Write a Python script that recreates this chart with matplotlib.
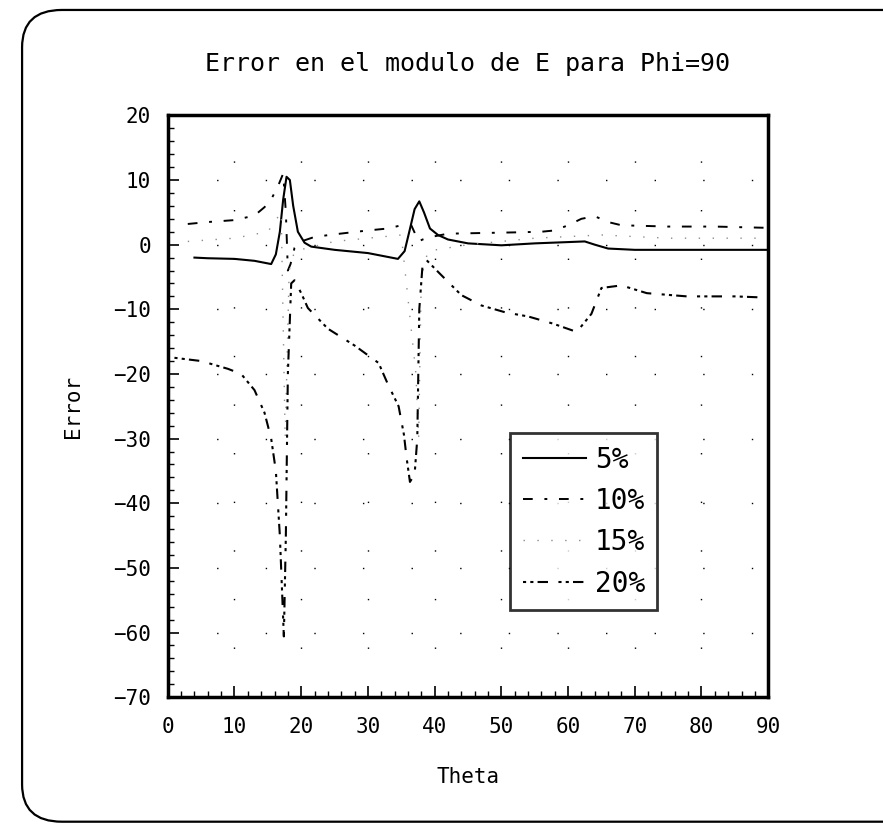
import matplotlib
matplotlib.use('Agg')
import matplotlib.pyplot as plt
from matplotlib.patches import FancyBboxPatch

plt.rcParams['font.family'] = ['DejaVu Sans Mono', 'DejaVu Sans']

# -------------------------------------------------------------------
# datos (Theta, Error)
# -------------------------------------------------------------------
theta_5 = [4, 6, 10, 13, 15.5, 16.2, 16.8, 17.3, 17.8, 18.3, 18.8, 19.5, 20.5, 21.5,
           25, 30, 34.5, 35.5, 36.2, 37, 37.7, 38.4, 39.3, 40.5, 42, 45, 50, 55,
           60, 62.5, 64, 66, 70, 80, 90]
err_5 = [-2.0, -2.1, -2.2, -2.5, -3.0, -1.5, 2, 7, 10.5, 10, 6, 2, 0.3, -0.3,
         -0.8, -1.3, -2.2, -1, 2, 5.5, 6.7, 5, 2.5, 1.5, 0.8, 0.2, -0.1, 0.2,
         0.4, 0.5, 0, -0.6, -0.8, -0.8, -0.8]

theta_10 = [3, 6, 10, 13, 14.5, 15.5, 16.5, 17.3, 17.7, 18.0, 18.4, 19.0, 20, 22,
            25, 30, 33, 35, 36.5, 37.6, 38.2, 39.5, 42, 47, 52, 56, 58, 60, 62,
            64, 66, 68, 75, 82, 90]
err_10 = [3.2, 3.5, 3.8, 4.5, 5.8, 7, 9, 11, 5, -4, -3, -0.5, 0.5, 1.2,
          1.6, 2.2, 2.5, 3.0, 3.0, 0.5, 0.8, 1.2, 1.7, 1.8, 1.9, 2.0, 2.2, 3.0, 4.0,
          4.4, 3.5, 3.0, 2.8, 2.8, 2.6]

theta_15 = [3, 10, 15, 17, 17.6, 18.2, 19, 25, 30, 35, 37.2, 37.6, 38, 39, 45, 55,
            65, 75, 90]
err_15 = [0.5, 1, 2, 5, -30, -4, -1, 0.5, 1, 1.5, -20, -30, -5, -1, 0, 1,
          1.5, 1, 1]

theta_20 = [1, 5, 9, 11, 13, 14.5, 15.5, 16.2, 16.8, 17.4, 17.7, 18.0, 18.5, 19, 20,
            21, 24, 28, 31.6, 33, 34.6, 35.4, 35.8, 36.3, 37.0, 37.4, 37.7, 38.2,
            38.7, 40.7, 44, 47, 50.7, 54, 57.7, 61.3, 63.5, 65, 68, 71.8, 77.8, 85, 90]
err_20 = [-17.5, -18, -19.2, -20, -22.5, -26, -30, -35, -45, -60.6, -45, -20, -6, -5.5,
          -7.5, -9.8, -13, -15.6, -18.3, -21.6, -25, -29.4, -33, -36.7, -35.5, -30,
          -10, -3, -2.3, -4.4, -7.8, -9.4, -10.5, -11.1, -12.2, -13.5, -10.7, -6.7,
          -6.3, -7.5, -8, -8, -8.2]

x_ticks = [0, 10, 20, 30, 40, 50, 60, 70, 80, 90]
y_ticks = [20, 10, 0, -10, -20, -30, -40, -50, -60, -70]

fig = plt.figure(figsize=(8.83, 8.30), dpi=100)

# marco redondeado de toda la figura (el lado derecho queda fuera)
marco = FancyBboxPatch((0.025, 0.010), 1.06, 0.978, boxstyle='round,pad=0,rounding_size=0.045',
                       transform=fig.transFigure, fill=False, edgecolor='black', linewidth=1.6)
fig.patches.append(marco)

ax = fig.add_axes([0.190, 0.160, 0.680, 0.701])

ax.plot(theta_5, err_5, color='black', linewidth=1.5, label='5%')
ax.plot(theta_10, err_10, color='black', linewidth=1.4, linestyle=(0, (5, 6, 1.5, 6)), label='10%')
ax.plot(theta_15, err_15, color='0.55', linewidth=1.0, linestyle=(0, (1, 9)), label='15%')
ax.plot(theta_20, err_20, color='black', linewidth=1.5, linestyle=(0, (1.5, 2, 1.5, 2, 5, 5)), label='20%')

ax.set_xlim(0, 90)
ax.set_ylim(-70, 20)
ax.set_xticks(x_ticks)
ax.set_yticks(y_ticks)
ax.set_xticks(range(0, 91, 2), minor=True)
ax.set_yticks(range(-70, 21, 2), minor=True)
ax.tick_params(which='major', direction='in', length=8, width=1.2, labelsize=15, top=False, right=False)
ax.tick_params(which='minor', direction='in', length=4, width=1.0, top=False, right=False)
ax.tick_params(axis='x', pad=14)
ax.tick_params(axis='y', pad=12)
ax.grid(True, which='major', color='black', linestyle=(0, (1, 34)), linewidth=1.0)

for s in ax.spines.values():
    s.set_linewidth(2.5)

ax.set_title('Error en el modulo de E para Phi=90', fontsize=18, pad=32)
ax.set_xlabel('Theta', fontsize=15, labelpad=22)
ax.set_ylabel('Error', fontsize=15, labelpad=22)

leg = ax.legend(loc='upper left', bbox_to_anchor=(0.57, 0.454), borderaxespad=0, fontsize=20,
                frameon=True, fancybox=False, handlelength=2.3, handletextpad=0.3,
                labelspacing=0.48, borderpad=0.45)
leg.get_frame().set_edgecolor('black')
leg.get_frame().set_linewidth(2.0)

fig.savefig('out.png', dpi=100)
